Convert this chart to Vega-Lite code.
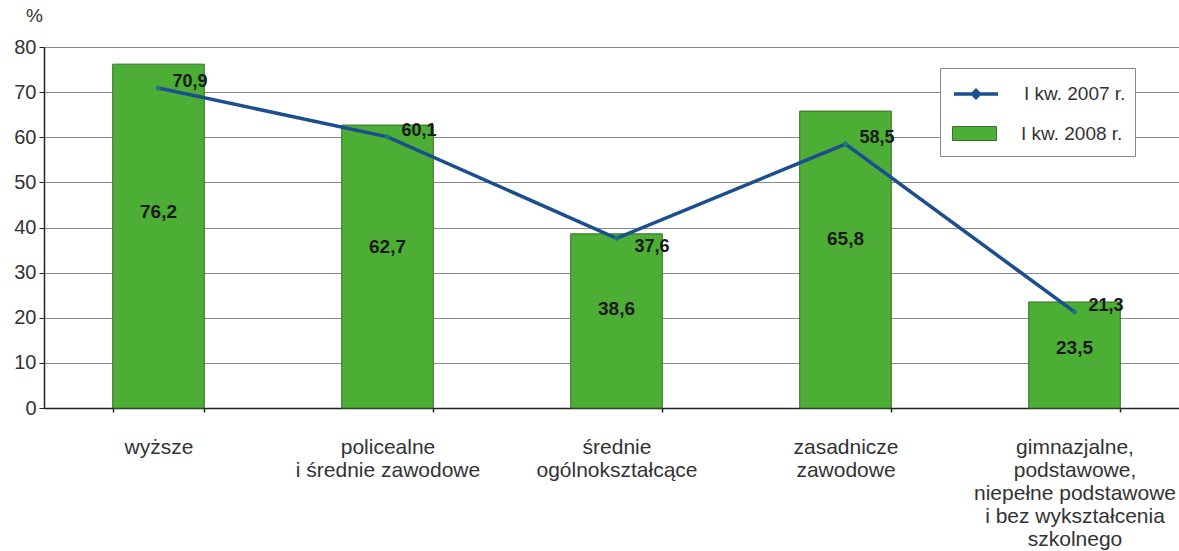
{
  "$schema": "https://vega.github.io/schema/vega-lite/v6.json",
  "autosize": "none",
  "width": 1145,
  "height": 361,
  "padding": {"left": 44, "top": 47, "right": 0, "bottom": 143},
  "background": "white",
  "config": {
    "locale": {"number": {"decimal": ",", "thousands": " ", "grouping": [3], "currency": ["", " zł"]}},
    "font": "Liberation Sans",
    "view": {"stroke": null}
  },
  "data": {
    "values": [
      {"cat": "wyższe", "v2007": 70.9, "v2008": 76.2},
      {"cat": "policealne\ni średnie zawodowe", "v2007": 60.1, "v2008": 62.7},
      {"cat": "średnie\nogólnokształcące", "v2007": 37.6, "v2008": 38.6},
      {"cat": "zasadnicze\nzawodowe", "v2007": 58.5, "v2008": 65.8},
      {"cat": "gimnazjalne,\npodstawowe,\nniepełne podstawowe\ni bez wykształcenia\nszkolnego", "v2007": 21.3, "v2008": 23.5}
    ]
  },
  "encoding": {
    "x": {
      "field": "cat", "type": "nominal", "sort": null,
      "scale": {"paddingInner": 0.6, "paddingOuter": 0.3},
      "axis": {
        "title": null, "labelAngle": 0, "grid": false,
        "ticks": true, "tickBand": "extent", "tickSize": 4, "tickColor": "#222", "tickWidth": 1.5,
        "domainColor": "#222", "domainWidth": 1.5,
        "labelExpr": "split(datum.label, '\\n')",
        "labelFontSize": 21, "labelColor": "#333", "labelLineHeight": 23,
        "labelPadding": 24, "labelLimit": 400
      }
    }
  },
  "layer": [
    {
      "mark": {"type": "bar", "stroke": "#3b6e2a", "strokeWidth": 1},
      "encoding": {
        "y": {
          "field": "v2008", "type": "quantitative",
          "scale": {"domain": [0, 80]},
          "axis": {
            "values": [0, 10, 20, 30, 40, 50, 60, 70, 80],
            "title": "%", "titleAngle": 0, "titleX": -10, "titleY": -22,
            "titleAlign": "center", "titleFontWeight": "normal", "titleFontSize": 19, "titleColor": "#333",
            "labelFontSize": 20, "labelColor": "#333", "labelPadding": 3,
            "tickSize": 5, "tickColor": "#222", "domainColor": "#222", "domainWidth": 1.5,
            "gridColor": "#8a8a8a", "gridWidth": 1
          }
        },
        "fill": {
          "datum": "I kw. 2008 r.",
          "type": "nominal",
          "scale": {"domain": ["I kw. 2008 r."], "range": ["#4cae34"]},
          "legend": {
            "title": "\u00a0\u00a0\u00a0\u00a0\u00a0\u00a0\u00a0\u00a0\u00a0\u00a0\u00a0\u00a0\u00a0\u00a0\u00a0\u00a0\u00a0\u00a0\u00a0\u00a0\u00a0\u00a0\u00a0\u00a0\u00a0\u00a0\u00a0\u00a0\u00a0\u00a0\u00a0\u00a0\u00a0\u00a0\u00a0\u00a0\u00a0\u00a0\u00a0\u00a0\u00a0\u00a0\u00a0\u00a0\u00a0\u00a0\u00a0\u00a0\u00a0\u00a0\u00a0\u00a0\u00a0\u00a0\u00a0\u00a0\u00a0\u00a0\u00a0\u00a0\u00a0\u00a0\u00a0\u00a0\u00a0\u00a0\u00a0\u00a0",
            "titleFontSize": 10, "titlePadding": 33, "titleLimit": 400,
            "orient": "none", "legendX": 896, "legendY": 21,
            "strokeColor": "#888", "padding": 12, "fillColor": "white",
            "symbolType": "M-1,-0.7H3.4V0.7H-1Z", "symbolSize": 400,
            "symbolStrokeColor": "#3b6e2a", "symbolStrokeWidth": 1,
            "labelOffset": 48, "labelFontSize": 19, "labelColor": "#333"
          }
        }
      }
    },
    {
      "mark": {"type": "line", "strokeWidth": 3.5},
      "encoding": {
        "y": {"field": "v2007", "type": "quantitative"},
        "stroke": {
          "datum": "I kw. 2007 r.",
          "type": "nominal",
          "scale": {"domain": ["I kw. 2007 r."], "range": ["#1c4f8f"]},
          "legend": {
            "title": null,
            "orient": "none", "legendX": 896, "legendY": 23,
            "padding": 12,
            "symbolType": "M-1,0H3.4M1.2,-0.35L1.55,0L1.2,0.35L0.85,0Z", "symbolSize": 400,
            "symbolStrokeWidth": 3.5, "symbolFillColor": "#1e7878",
            "labelOffset": 48, "labelFontSize": 19, "labelColor": "#333"
          }
        }
      }
    },
    {
      "mark": {"type": "point", "shape": "diamond", "filled": true, "color": "#1e7878", "size": 40, "opacity": 1},
      "encoding": {
        "y": {"field": "v2007", "type": "quantitative"}
      }
    },
    {
      "transform": [{"filter": "datum.v2007 != 37.6"}],
      "mark": {"type": "text", "align": "left", "dx": 14, "dy": -6, "fontSize": 18, "fontWeight": "bold", "color": "#1a1a1a"},
      "encoding": {
        "y": {"field": "v2007", "type": "quantitative"},
        "text": {"field": "v2007", "type": "quantitative", "format": ".1f"}
      }
    },
    {
      "transform": [{"filter": "datum.v2007 == 37.6"}],
      "mark": {"type": "text", "align": "left", "dx": 18, "dy": 9, "fontSize": 18, "fontWeight": "bold", "color": "#1a1a1a"},
      "encoding": {
        "y": {"field": "v2007", "type": "quantitative"},
        "text": {"field": "v2007", "type": "quantitative", "format": ".1f"}
      }
    },
    {
      "transform": [{"calculate": "datum.v2008 * 0.57", "as": "labelPos"}],
      "mark": {"type": "text", "fontSize": 19, "fontWeight": "bold", "color": "#1a1a1a"},
      "encoding": {
        "y": {"field": "labelPos", "type": "quantitative"},
        "text": {"field": "v2008", "type": "quantitative", "format": ".1f"}
      }
    }
  ]
}
